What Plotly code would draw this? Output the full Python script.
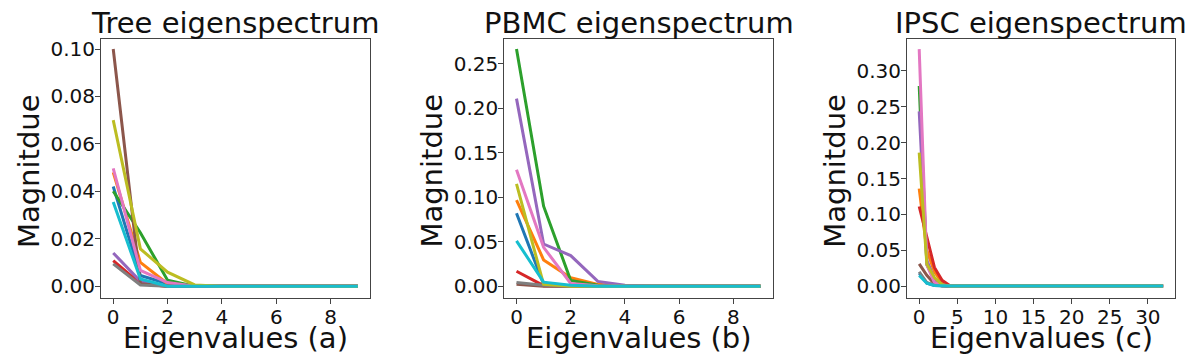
import plotly.graph_objects as go

# tab10 colours, in the order the series were plotted
colors = ['#1f77b4', '#ff7f0e', '#2ca02c', '#d62728', '#9467bd',
          '#8c564b', '#e377c2', '#7f7f7f', '#bcbd22', '#17becf']

# eigenvalue index on the x axis
tree_x = [0, 1, 2, 3, 4, 5, 6, 7, 8, 9]
pbmc_x = [0, 1, 2, 3, 4, 5, 6, 7, 8, 9]
ipsc_x = [0, 1, 2, 3, 4, 5, 6, 7, 8, 9, 10, 11, 12, 13, 14, 15, 16,
          17, 18, 19, 20, 21, 22, 23, 24, 25, 26, 27, 28, 29, 30, 31, 32]

# Tree eigenspectrum (a)
tree_blue = [0.042, 0.0045, 0.001, 0, 0, 0, 0, 0, 0, 0]
tree_orange = [0.048, 0.010, 0.001, 0, 0, 0, 0, 0, 0, 0]
tree_green = [0.040, 0.0225, 0.0025, 0, 0, 0, 0, 0, 0, 0]
tree_red = [0.0108, 0.001, 0, 0, 0, 0, 0, 0, 0, 0]
tree_purple = [0.014, 0.002, 0, 0, 0, 0, 0, 0, 0, 0]
tree_brown = [0.100, 0.001, 0, 0, 0, 0, 0, 0, 0, 0]
tree_pink = [0.0497, 0.0066, 0.0015, 0, 0, 0, 0, 0, 0, 0]
tree_gray = [0.0094, 0.0005, 0, 0, 0, 0, 0, 0, 0, 0]
tree_olive = [0.070, 0.0157, 0.0059, 0.0005, 0, 0, 0, 0, 0, 0]
tree_cyan = [0.0355, 0.003, 0, 0, 0, 0, 0, 0, 0, 0]

# PBMC eigenspectrum (b)
pbmc_blue = [0.082, 0.002, 0, 0, 0, 0, 0, 0, 0, 0]
pbmc_orange = [0.0967, 0.0295, 0.0094, 0.002, 0, 0, 0, 0, 0, 0]
pbmc_green = [0.2668, 0.090, 0.0064, 0.001, 0, 0, 0, 0, 0, 0]
pbmc_red = [0.0168, 0.0005, 0, 0, 0, 0, 0, 0, 0, 0]
pbmc_purple = [0.211, 0.0474, 0.0344, 0.0053, 0.001, 0, 0, 0, 0, 0]
pbmc_brown = [0.002, 0, 0, 0, 0, 0, 0, 0, 0, 0]
pbmc_pink = [0.131, 0.0437, 0.003, 0.0005, 0, 0, 0, 0, 0, 0]
pbmc_gray = [0.004, 0.001, 0, 0, 0, 0, 0, 0, 0, 0]
pbmc_olive = [0.115, 0.002, 0, 0, 0, 0, 0, 0, 0, 0]
pbmc_cyan = [0.051, 0.0045, 0.001, 0, 0, 0, 0, 0, 0, 0]

# IPSC eigenspectrum (c)
ipsc_blue = [0.018, 0.004, 0.001, 0, 0, 0, 0, 0, 0, 0, 0, 0, 0, 0, 0, 0, 0,
             0, 0, 0, 0, 0, 0, 0, 0, 0, 0, 0, 0, 0, 0, 0, 0]
ipsc_orange = [0.136, 0.050, 0.020, 0.005, 0, 0, 0, 0, 0, 0, 0, 0, 0, 0, 0, 0, 0,
               0, 0, 0, 0, 0, 0, 0, 0, 0, 0, 0, 0, 0, 0, 0, 0]
ipsc_green = [0.279, 0.030, 0.008, 0.001, 0, 0, 0, 0, 0, 0, 0, 0, 0, 0, 0, 0, 0,
              0, 0, 0, 0, 0, 0, 0, 0, 0, 0, 0, 0, 0, 0, 0, 0]
ipsc_red = [0.111, 0.068, 0.026, 0.008, 0.001, 0, 0, 0, 0, 0, 0, 0, 0, 0, 0, 0, 0,
            0, 0, 0, 0, 0, 0, 0, 0, 0, 0, 0, 0, 0, 0, 0, 0]
ipsc_purple = [0.2436, 0.036, 0.010, 0.002, 0, 0, 0, 0, 0, 0, 0, 0, 0, 0, 0, 0, 0,
               0, 0, 0, 0, 0, 0, 0, 0, 0, 0, 0, 0, 0, 0, 0, 0]
ipsc_brown = [0.031, 0.015, 0.003, 0, 0, 0, 0, 0, 0, 0, 0, 0, 0, 0, 0, 0, 0,
              0, 0, 0, 0, 0, 0, 0, 0, 0, 0, 0, 0, 0, 0, 0, 0]
ipsc_pink = [0.3305, 0.030, 0.005, 0.001, 0, 0, 0, 0, 0, 0, 0, 0, 0, 0, 0, 0, 0,
             0, 0, 0, 0, 0, 0, 0, 0, 0, 0, 0, 0, 0, 0, 0, 0]
ipsc_gray = [0.020, 0.005, 0.001, 0, 0, 0, 0, 0, 0, 0, 0, 0, 0, 0, 0, 0, 0,
             0, 0, 0, 0, 0, 0, 0, 0, 0, 0, 0, 0, 0, 0, 0, 0]
ipsc_olive = [0.186, 0.031, 0.012, 0.002, 0, 0, 0, 0, 0, 0, 0, 0, 0, 0, 0, 0, 0,
              0, 0, 0, 0, 0, 0, 0, 0, 0, 0, 0, 0, 0, 0, 0, 0]
ipsc_cyan = [0.015, 0.004, 0.001, 0, 0, 0, 0, 0, 0, 0, 0, 0, 0, 0, 0, 0, 0,
             0, 0, 0, 0, 0, 0, 0, 0, 0, 0, 0, 0, 0, 0, 0, 0]

tree_series = [tree_blue, tree_orange, tree_green, tree_red, tree_purple,
               tree_brown, tree_pink, tree_gray, tree_olive, tree_cyan]
pbmc_series = [pbmc_blue, pbmc_orange, pbmc_green, pbmc_red, pbmc_purple,
               pbmc_brown, pbmc_pink, pbmc_gray, pbmc_olive, pbmc_cyan]
ipsc_series = [ipsc_blue, ipsc_orange, ipsc_green, ipsc_red, ipsc_purple,
               ipsc_brown, ipsc_pink, ipsc_gray, ipsc_olive, ipsc_cyan]

titles = ['Tree eigenspectrum', 'PBMC eigenspectrum', 'IPSC eigenspectrum']
xlabels = ['Eigenvalues (a)', 'Eigenvalues (b)', 'Eigenvalues (c)']
ylabel = 'Magnitdue'

# the page body has an 8px margin, so the figure is drawn 8px smaller
# and all pixel positions below are page positions minus that offset
OFF = 8
W, H = 1193 - OFF, 363 - OFF
FONT = 'DejaVu Sans'


def px_x(p):
    return (p - OFF) / W


def px_y(p):
    return 1 - (p - OFF) / H


# page-pixel boxes of the three axes (left, right), shared top/bottom
boxes = [(101, 370), (504.3, 772.7), (907, 1175.3)]
top, bottom = 37, 298
ylabel_x = [29, 432.5, 834.7]
xranges = [[-0.45, 9.45], [-0.45, 9.45], [-1.6, 33.6]]
yranges = [[-0.00516, 0.1043], [-0.01376, 0.2783], [-0.0171, 0.3448]]
xdticks = [2, 2, 5]
ydticks = [0.02, 0.05, 0.05]

fig = go.Figure()

panels = [(tree_x, tree_series), (pbmc_x, pbmc_series), (ipsc_x, ipsc_series)]
for i, (xs, series) in enumerate(panels):
    n = '' if i == 0 else str(i + 1)
    for c, ys in zip(colors, series):
        fig.add_trace(go.Scatter(x=xs, y=ys, mode='lines', line=dict(color=c, width=3),
                                 xaxis='x' + n, yaxis='y' + n, showlegend=False,
                                 hoverinfo='skip'))
    l, r = boxes[i]
    axis_style = dict(showline=True, linecolor='#444', linewidth=1, mirror=True,
                      ticks='outside', ticklen=5, tickcolor='#444', showgrid=False,
                      zeroline=False, tickfont=dict(family=FONT, size=20, color='#111'))
    fig.update_layout(**{
        'xaxis' + n: dict(domain=[px_x(l), px_x(r)], range=xranges[i], dtick=xdticks[i],
                          tick0=0, anchor='y' + n, ticklabelstandoff=-4, **axis_style),
        'yaxis' + n: dict(domain=[px_y(bottom), px_y(top)], range=yranges[i],
                          dtick=ydticks[i], tick0=0, tickformat='.2f',
                          anchor='x' + n, ticklabelstandoff=-4, **axis_style),
    })
    cx = px_x((l + r) / 2)
    fig.add_annotation(text=titles[i], x=cx, y=px_y(21), xref='paper', yref='paper',
                       showarrow=False, xanchor='center', yanchor='middle',
                       font=dict(family=FONT, size=29, color='#111'))
    fig.add_annotation(text=xlabels[i], x=cx, y=px_y(338), xref='paper', yref='paper',
                       showarrow=False, xanchor='center', yanchor='middle',
                       font=dict(family=FONT, size=29, color='#111'))
    fig.add_annotation(text=ylabel, x=px_x(ylabel_x[i]), y=px_y(170), xref='paper',
                       yref='paper', showarrow=False, textangle=-90,
                       xanchor='center', yanchor='middle',
                       font=dict(family=FONT, size=29, color='#111'))

fig.update_layout(width=W, height=H, margin=dict(l=0, r=0, t=0, b=0),
                  paper_bgcolor='white', plot_bgcolor='white')

fig.write_html("out.html")
